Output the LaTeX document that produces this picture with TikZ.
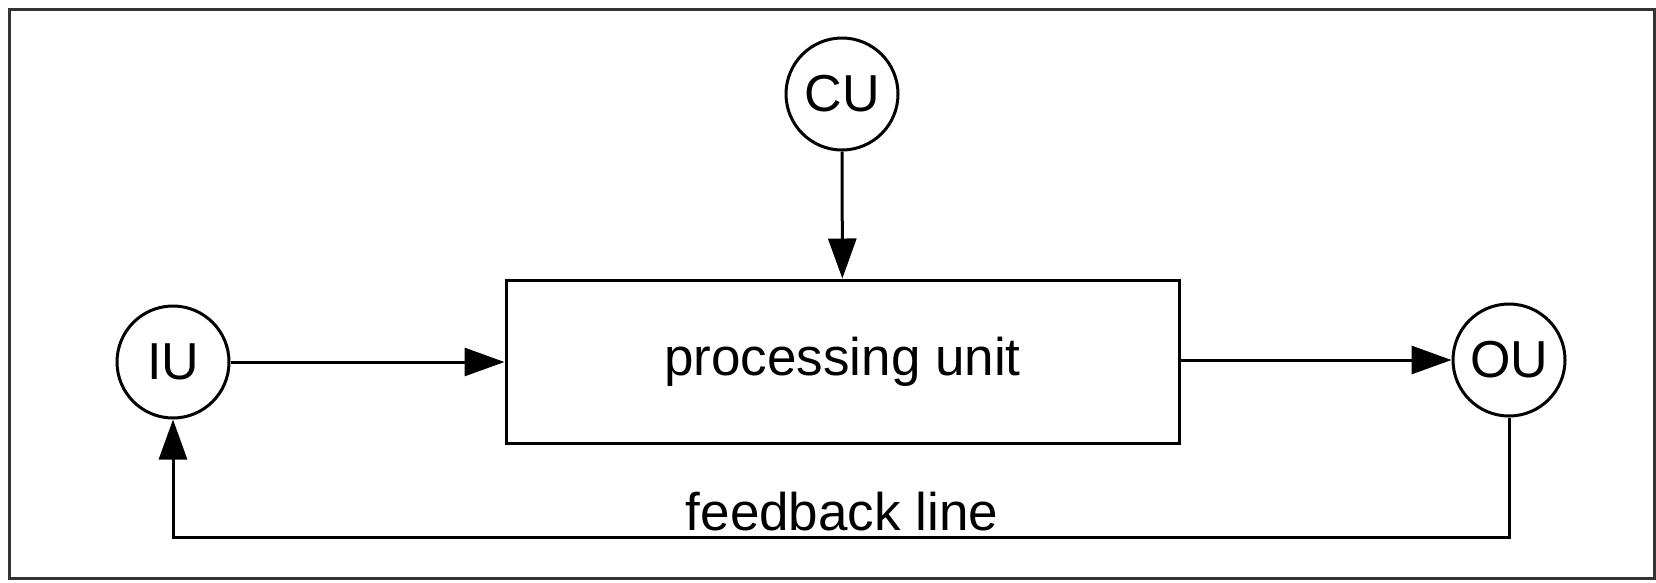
\documentclass[tikz,border=0pt]{standalone}
\usepackage{fontspec}
\setmainfont{Liberation Sans}
\usetikzlibrary{arrows.meta}
\begin{document}
\begin{tikzpicture}[x=1pt,y=-1pt,
  unit/.style={circle,draw,line width=3pt,inner sep=0pt,minimum size=112pt,font=\fontsize{52}{60}\selectfont},
  procbox/.style={rectangle,draw,line width=3pt,minimum width=673pt,minimum height=163pt,font=\fontsize{53}{60}\selectfont},
  lbl/.style={font=\fontsize{53}{60}\selectfont,inner sep=0pt},
  conn/.style={line width=3pt,-{Triangle[length=40pt,width=28pt]}},
  frame/.style={draw=black!80,line width=3pt}]
\useasboundingbox (0,0) rectangle (1656,582);
\draw[frame] (9,9) rectangle (1654,578);
\node[unit] (CU) at (842,94) {CU};
\node[unit] (IU) at (173,362) {IU};
\node[unit] (OU) at (1509,360) {OU};
\node[procbox] (PU) at (842.5,361.5) {processing unit};
\coordinate (fbR) at (1509,537);
\coordinate (fbL) at (173,537);
\node[lbl] (FB) at (842,512) {feedback line};
\draw[conn] (CU) -- (PU);
\draw[conn] (IU.east) -- (IU.east -| PU.west);
\draw[conn] (PU.east |- OU.west) -- (OU.west);
\draw[conn] (OU.south) -- (fbR) -- (fbL) -- (IU.south);
\end{tikzpicture}
\end{document}
